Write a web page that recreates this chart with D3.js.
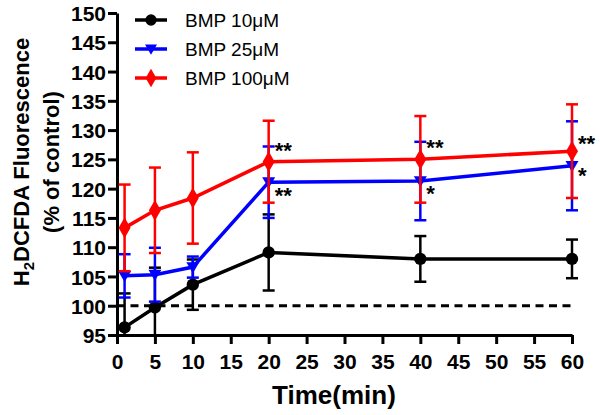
<!DOCTYPE html>
<html><head><meta charset="utf-8">
<script src="https://cdn.jsdelivr.net/npm/d3@7"></script>
<style>body{margin:0;background:#fff}svg{display:block}text{font-family:Arial,"Liberation Sans",sans-serif}</style>
</head><body>
<svg id="c" width="600" height="415"></svg>
<script>
const times = [1, 5, 10, 20, 40, 60];
const seriesNames = ["BMP 10μM", "BMP 25μM", "BMP 100μM"];
const meanBMP10 = [96.3, 99.7, 103.6, 109.1, 108.0, 108.0];
const errBMP10 = [5.8, 6.8, 4.3, 6.5, 3.9, 3.3];
const meanBMP25 = [105.1, 105.3, 106.6, 121.1, 121.3, 123.9];
const errBMP25 = [3.7, 4.6, 1.8, 6.1, 6.7, 7.6];
const meanBMP100 = [113.3, 116.3, 118.4, 124.6, 125.0, 126.4];
const errBMP100 = [7.4, 7.3, 7.8, 7.0, 7.4, 8.0];
const xTicks = [0, 5, 10, 15, 20, 25, 30, 35, 40, 45, 50, 55, 60];
const yTicks = [95, 100, 105, 110, 115, 120, 125, 130, 135, 140, 145, 150];
const baseline = 100;
const annotTimes = [20, 20, 40, 40, 60, 60];
const annotValues = [127.3, 119.6, 127.8, 120.0, 128.5, 123.0];
const annotTexts = ["**", "**", "**", "*", "**", "*"];

const colors = ["#000000", "#0000ff", "#ff0000"];
const shapes = [d3.symbolCircle, "tri", d3.symbolDiamond];
const means = [meanBMP10, meanBMP25, meanBMP100];
const errs = [errBMP10, errBMP25, errBMP100];

const svg = d3.select("#c");
const L = 117, R = 572, T = 13, B = 335;
const x = d3.scaleLinear().domain([0, 60]).range([L, R]);
const y = d3.scaleLinear().domain([95, 150]).range([B, T]);

svg.append("defs").append("clipPath").attr("id", "clip")
  .append("rect").attr("x", L - 20).attr("y", T - 20).attr("width", R - L + 60).attr("height", B - T + 20);

// axes
const yAxis = svg.append("g").attr("transform", `translate(${L},0)`)
  .call(d3.axisLeft(y).tickValues(yTicks).tickSize(9).tickPadding(2).tickSizeOuter(0));
const xAxis = svg.append("g").attr("transform", `translate(0,${B})`)
  .call(d3.axisBottom(x).tickValues(xTicks).tickSize(9).tickPadding(10).tickSizeOuter(0));
[yAxis, xAxis].forEach(g => {
  g.select(".domain").attr("stroke", "#000").attr("stroke-width", 3);
  g.selectAll(".tick line").attr("stroke", "#000").attr("stroke-width", 3);
  g.selectAll(".tick text").attr("fill", "#000").attr("font-size", 21).attr("font-weight", "bold");
});
yAxis.selectAll(".tick text").attr("dy", "0.36em");
xAxis.selectAll(".tick text").attr("dy", "0.72em");

// baseline dashed
svg.append("line").attr("x1", x(0)).attr("x2", x(60)).attr("y1", y(baseline)).attr("y2", y(baseline))
  .attr("stroke", "#000").attr("stroke-width", 3).attr("stroke-dasharray", "8,5.5");

const plot = svg.append("g").attr("clip-path", "url(#clip)");
const triPath = s => `M${-s},${-s*0.75}L${s},${-s*0.75}L0,${s*0.95}Z`;

means.forEach((m, si) => {
  const g = plot.append("g");
  const c = colors[si];
  const pts = times.map((t, i) => ({t, v: m[i], e: errs[si][i]}));
  pts.forEach(p => {
    g.append("line").attr("x1", x(p.t)).attr("x2", x(p.t))
      .attr("y1", y(p.v + p.e)).attr("y2", Math.min(B, y(p.v - p.e)))
      .attr("stroke", c).attr("stroke-width", 2.5);
    [p.v + p.e, p.v - p.e].forEach(v => {
      if (y(v) <= B) g.append("line").attr("x1", x(p.t) - 6).attr("x2", x(p.t) + 6)
        .attr("y1", y(v)).attr("y2", y(v)).attr("stroke", c).attr("stroke-width", 2.5);
    });
  });
  g.append("path").datum(pts)
    .attr("d", d3.line().x(d => x(d.t)).y(d => y(d.v)))
    .attr("fill", "none").attr("stroke", c).attr("stroke-width", 3.5);
  pts.forEach(p => {
    const mk = g.append("path").attr("transform", `translate(${x(p.t)},${y(p.v)})`).attr("fill", c);
    if (shapes[si] === "tri") mk.attr("d", triPath(6.5));
    else mk.attr("d", d3.symbol().type(shapes[si]).size(si === 0 ? 120 : 125)());
  });
});

// annotations
annotTimes.forEach((t, i) => {
  svg.append("text").attr("x", x(t) + 6).attr("y", y(annotValues[i]) + 12)
    .attr("font-size", 22).attr("font-weight", "bold").attr("fill", "#000")
    .text(annotTexts[i]);
});

// legend
const legY = [20, 49, 78];
seriesNames.forEach((n, i) => {
  const g = svg.append("g").attr("transform", `translate(0,${legY[i]})`);
  g.append("line").attr("x1", 135).attr("x2", 167).attr("y1", 0).attr("y2", 0)
    .attr("stroke", colors[i]).attr("stroke-width", 3.5);
  const mk = g.append("path").attr("transform", `translate(151,0)`).attr("fill", colors[i]);
  if (shapes[i] === "tri") mk.attr("d", triPath(6));
  else mk.attr("d", d3.symbol().type(shapes[i]).size(100)());
  g.append("text").attr("x", 185).attr("y", 0).attr("dy", "0.36em")
    .attr("font-size", 19).attr("fill", "#000").text(n);
});

// axis titles
svg.append("text").attr("x", 334).attr("y", 404).attr("text-anchor", "middle")
  .attr("font-size", 26).attr("font-weight", "bold").attr("fill", "#000").text("Time(min)");
const yl = svg.append("g").attr("transform", "translate(0,162) rotate(-90)");
const t1 = yl.append("text").attr("x", 0).attr("y", 29).attr("text-anchor", "middle")
  .attr("font-size", 22).attr("font-weight", "bold").attr("fill", "#000");
t1.append("tspan").text("H");
t1.append("tspan").attr("font-size", 15).attr("dy", 5).text("2");
t1.append("tspan").attr("dy", -5).text("DCFDA Fluorescence");
yl.append("text").attr("x", 0).attr("y", 59).attr("text-anchor", "middle")
  .attr("font-size", 22).attr("font-weight", "bold").attr("fill", "#000").text("(% of control)");
</script>
</body></html>
